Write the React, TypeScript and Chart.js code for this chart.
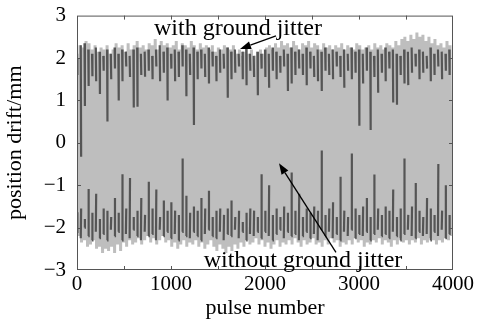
import React, { useEffect, useRef } from "react";
import { Chart, registerables } from "chart.js";

Chart.register(...registerables);

// Pulse spacing of the stored samples (pulse numbers)
const lightPulseStep = 16;
const darkPulseStep = 40;

// "without ground jitter": positive peaks and negative troughs (mm), alternating pulses
const lightTop = [
  2.1, 2.3, 2.25, 2.4, 2.35, 2.2, 2.3, 2.15, 2.25, 2.2,
  2.3, 2.1, 2.2, 2.35, 2.25, 2.3, 2.15, 2.35, 2.2, 2.3,
  2.4, 2.25, 2.3, 2.2, 2.35, 2.3, 2.45, 2.2, 2.4, 2.3,
  2.35, 2.25, 2.3, 2.4, 2.2, 2.35, 2.3, 2.25, 2.4, 2.3,
  2.2, 2.35, 2.25, 2.3, 2.2, 2.3, 2.15, 2.25, 2.2, 2.3,
  2.25, 2.2, 2.3, 2.1, 2.2, 2.05, 2.15, 2.1, 2.2, 2.05,
  2.15, 2.2, 2.1, 2.25, 2.3, 2.2, 2.35, 2.25, 2.4, 2.3,
  2.35, 2.25, 2.4, 2.3, 2.2, 2.35, 2.3, 2.4, 2.25, 2.35,
  2.3, 2.2, 2.35, 2.25, 2.3, 2.2, 2.3, 2.25, 2.35, 2.2,
  2.3, 2.25, 2.2, 2.35, 2.3, 2.2, 2.25, 2.3, 2.2, 2.35,
  2.25, 2.3, 2.2, 2.35, 2.3, 2.25, 2.4, 2.3, 2.45, 2.5,
  2.4, 2.55, 2.45, 2.6, 2.5, 2.55, 2.4, 2.5, 2.35, 2.45,
  2.3, 2.35, 2.25, 2.4, 2.3,
];
const lightBot = [
  -2.2, -2.35, -2.3, -2.45, -2.4, -2.3, -2.5, -2.45, -2.6, -2.5,
  -2.55, -2.45, -2.6, -2.4, -2.55, -2.35, -2.45, -2.3, -2.4, -2.35,
  -2.25, -2.4, -2.3, -2.2, -2.35, -2.25, -2.4, -2.3, -2.2, -2.35,
  -2.3, -2.45, -2.35, -2.5, -2.4, -2.3, -2.45, -2.35, -2.4, -2.3,
  -2.45, -2.35, -2.5, -2.4, -2.3, -2.45, -2.55, -2.4, -2.5, -2.6,
  -2.45, -2.55, -2.4, -2.5, -2.35, -2.45, -2.3, -2.4, -2.35, -2.25,
  -2.4, -2.3, -2.45, -2.35, -2.5, -2.4, -2.3, -2.45, -2.35, -2.4,
  -2.3, -2.4, -2.25, -2.35, -2.45, -2.3, -2.4, -2.35, -2.25, -2.4,
  -2.35, -2.45, -2.3, -2.4, -2.25, -2.35, -2.3, -2.45, -2.35, -2.4,
  -2.3, -2.4, -2.25, -2.35, -2.3, -2.45, -2.35, -2.4, -2.3, -2.35,
  -2.25, -2.4, -2.3, -2.35, -2.45, -2.3, -2.4, -2.25, -2.35, -2.3,
  -2.4, -2.3, -2.35, -2.25, -2.4, -2.3, -2.35, -2.25, -2.3, -2.4,
  -2.3, -2.35, -2.25, -2.3, -2.2,
];

// "with ground jitter": positive excursions (outer ends / inner ends)
const darkTopHi = [
  2.0, 2.3, 2.35, 2.2, 2.1, 2.25, 2.15, 2.05, 2.2, 2.1,
  2.25, 2.1, 2.2, 2.15, 2.05, 2.2, 2.25, 2.1, 2.15, 2.2,
  2.05, 2.2, 2.3, 2.15, 2.25, 2.1, 2.2, 2.15, 2.3, 2.2,
  2.1, 2.25, 2.15, 2.2, 2.1, 2.25, 2.15, 2.05, 2.2, 2.1,
  2.25, 2.15, 2.2, 2.1, 2.15, 2.25, 2.1, 2.05, 2.15, 2.1,
  2.2, 2.1, 2.25, 2.15, 2.05, 2.2, 2.1, 2.25, 2.15, 2.2,
  2.1, 2.25, 2.15, 2.05, 2.2, 2.15, 2.25, 2.1, 2.2, 2.15,
  2.05, 2.2, 2.1, 2.25, 2.15, 2.2, 2.1, 2.25, 2.15, 2.05,
  2.2, 2.1, 2.25, 2.15, 2.2, 2.1, 2.05, 2.2, 2.15, 2.25,
  2.1, 2.2, 2.15, 2.05, 2.25, 2.1, 2.2, 2.15, 2.1, 2.2,
];
const darkTopLo = [
  1.6, -0.33, 0.87, 1.34, 1.57, 1.45, 1.15, 1.7, 0.5, 1.5,
  1.75, 1.0, 1.45, 1.8, 1.55, 0.83, 0.85, 1.6, 1.56, 1.7,
  1.5, 1.8, 1.45, 1.65, 1.0, 1.75, 1.45, 1.55, 1.8, 1.1,
  1.6, 0.42, 1.5, 1.75, 1.55, 1.4, 1.8, 1.45, 1.65, 1.75,
  1.06, 1.5, 1.65, 1.8, 1.5, 1.36, 1.7, 1.55, 1.12, 1.75,
  1.55, 1.3, 1.7, 1.5, 1.65, 1.8, 1.22, 1.4, 1.6, 1.75,
  1.6, 1.36, 1.75, 1.55, 1.45, 1.22, 1.7, 1.6, 1.5, 1.8,
  1.55, 1.3, 1.7, 1.5, 1.65, 0.4, 1.4, 1.7, 0.3, 1.55,
  1.18, 1.65, 1.45, 1.75, 0.95, 0.9, 1.6, 1.4, 1.36, 1.65,
  1.8, 1.5, 1.65, 1.75, 1.45, 1.6, 1.8, 1.5, 1.7, 1.6,
];
// "with ground jitter": negative excursions (outer ends / inner ends)
const darkBotLo = [
  -2.1, -2.25, -2.0, -2.2, -2.3, -2.1, -2.25, -2.15, -2.3, -2.05,
  -2.2, -2.1, -2.3, -2.15, -2.25, -2.05, -2.2, -2.3, -2.1, -2.2,
  -2.15, -2.3, -2.05, -2.2, -2.1, -2.25, -2.15, -2.3, -2.1, -2.2,
  -2.25, -2.1, -2.2, -2.3, -2.15, -2.05, -2.2, -2.25, -2.1, -2.3,
  -2.15, -2.2, -2.05, -2.25, -2.1, -2.3, -2.15, -2.2, -2.1, -2.25,
  -2.1, -2.2, -2.3, -2.15, -2.05, -2.25, -2.1, -2.2, -2.15, -2.3,
  -2.2, -2.1, -2.25, -2.15, -2.3, -2.05, -2.2, -2.1, -2.25, -2.15,
  -2.3, -2.1, -2.2, -2.05, -2.25, -2.15, -2.2, -2.1, -2.3, -2.15,
  -2.05, -2.2, -2.15, -2.25, -2.1, -2.2, -2.3, -2.15, -2.05, -2.2,
  -2.25, -2.1, -2.2, -2.15, -2.3, -2.1, -2.2, -2.05, -2.25, -2.15,
];
const darkBotHi = [
  -1.64, -1.55, -1.8, -1.09, -1.65, -1.2, -1.8, -1.55, -1.6, -1.75,
  -1.3, -1.65, -0.74, -1.55, -0.83, -1.75, -1.6, -1.3, -1.7, -0.92,
  -1.55, -1.1, -1.75, -1.36, -1.6, -1.4, -1.6, -1.7, -0.37, -1.25,
  -1.65, -1.5, -1.6, -1.3, -1.55, -1.13, -1.75, -1.6, -1.55, -1.7,
  -1.55, -1.36, -1.75, -1.6, -1.87, -1.65, -1.55, -1.6, -1.75, -0.74,
  -1.6, -1.0, -1.7, -1.55, -1.75, -1.5, -1.65, -0.7, -1.6, -1.2,
  -1.75, -1.55, -1.65, -1.5, -1.6, -0.18, -1.7, -1.55, -1.4, -1.75,
  -0.8, -1.6, -1.75, -0.25, -1.55, -1.7, -1.5, -1.3, -1.75, -0.75,
  -1.55, -1.7, -1.5, -1.6, -1.1, -1.75, -1.55, -0.37, -1.7, -1.5,
  -0.95, -1.6, -1.75, -1.3, -1.55, -1.7, -0.5, -1.6, -1.0, -1.7,
];

// Axis ticks
const xTickValues = [0, 1000, 2000, 3000, 4000];
const yTickValues = [-3, -2, -1, 0, 1, 2, 3];

// Annotations, anchored in data units
const annotationTexts = [
  { text: "with ground jitter", x: 1713, y: 2.54 },
  { text: "without ground jitter", x: 2404, y: -2.93 },
];
const annotationArrows = [
  { fromX: 2117, fromY: 2.52, toX: 1734, toY: 2.215 },
  { fromX: 2755, fromY: -2.585, toX: 2149, toY: -0.485 },
];

const FONT = '"Liberation Serif", "Times New Roman", serif';

// zig-zag between alternating pulses
function interleave(a: number[], b: number[], step: number) {
  const out: { x: number; y: number }[] = [];
  for (let i = 0; i < a.length; i++) {
    out.push({ x: 2 * i * step, y: a[i] });
    out.push({ x: (2 * i + 1) * step, y: b[i] });
  }
  return out;
}

// separate strokes: one excursion per sample, broken by gaps
function strokes(a: number[], b: number[], step: number) {
  const out: { x: number; y: number | null }[] = [];
  for (let i = 0; i < a.length; i++) {
    out.push({ x: i * step, y: a[i] });
    out.push({ x: i * step + 4, y: b[i] });
    out.push({ x: i * step + 5, y: null });
  }
  return out;
}

const framePlugin = {
  id: "frame",
  afterDraw(chart: any) {
    const { ctx, chartArea, scales } = chart;
    const { left, right, top, bottom } = chartArea;
    const xs = scales.x;
    const ys = scales.y;
    ctx.save();
    ctx.strokeStyle = "#555";
    ctx.lineWidth = 1;
    ctx.strokeRect(left + 0.5, top + 0.5, right - left - 1, bottom - top - 1);
    ctx.beginPath();
    for (let v = 500; v < 4000; v += 500) {
      const px = Math.round(xs.getPixelForValue(v)) + 0.5;
      ctx.moveTo(px, bottom);
      ctx.lineTo(px, bottom - 4);
      ctx.moveTo(px, top);
      ctx.lineTo(px, top + 4);
    }
    for (let v = -2; v <= 2; v += 1) {
      const py = Math.round(ys.getPixelForValue(v)) + 0.5;
      ctx.moveTo(left, py);
      ctx.lineTo(left + 4, py);
      ctx.moveTo(right, py);
      ctx.lineTo(right - 4, py);
    }
    ctx.stroke();

    ctx.fillStyle = "#000";
    ctx.font = "24px " + FONT;
    ctx.textAlign = "center";
    ctx.textBaseline = "alphabetic";
    for (const a of annotationTexts) {
      ctx.fillText(a.text, xs.getPixelForValue(a.x), ys.getPixelForValue(a.y));
    }
    ctx.strokeStyle = "#000";
    ctx.lineWidth = 1.3;
    for (const a of annotationArrows) {
      const x1 = xs.getPixelForValue(a.fromX);
      const y1 = ys.getPixelForValue(a.fromY);
      const x2 = xs.getPixelForValue(a.toX);
      const y2 = ys.getPixelForValue(a.toY);
      const ang = Math.atan2(y2 - y1, x2 - x1);
      const headLen = 11;
      const headW = 4;
      const bx = x2 - headLen * Math.cos(ang);
      const by = y2 - headLen * Math.sin(ang);
      ctx.beginPath();
      ctx.moveTo(x1, y1);
      ctx.lineTo(bx, by);
      ctx.stroke();
      ctx.beginPath();
      ctx.moveTo(x2, y2);
      ctx.lineTo(bx + headW * Math.sin(ang), by - headW * Math.cos(ang));
      ctx.lineTo(bx - headW * Math.sin(ang), by + headW * Math.cos(ang));
      ctx.closePath();
      ctx.fill();
    }
    ctx.restore();
  },
};

export default function App() {
  const canvasRef = useRef<HTMLCanvasElement | null>(null);

  useEffect(() => {
    const canvas = canvasRef.current;
    if (!canvas) return;
    const fmt = (v: number) => (v < 0 ? "\u2212" + Math.abs(v) : String(v));
    const chart = new Chart(canvas, {
      type: "line",
      data: {
        datasets: [
          {
            label: "with ground jitter (+)",
            data: strokes(darkTopHi, darkTopLo, darkPulseStep),
            borderColor: "#555555",
            borderWidth: 2.2,
            pointRadius: 0,
            tension: 0,
            spanGaps: false,
          },
          {
            label: "with ground jitter (−)",
            data: strokes(darkBotLo, darkBotHi, darkPulseStep),
            borderColor: "#555555",
            borderWidth: 2.2,
            pointRadius: 0,
            tension: 0,
            spanGaps: false,
          },
          {
            label: "without ground jitter",
            data: interleave(lightTop, lightBot, lightPulseStep),
            borderColor: "#bebebe",
            borderWidth: 3,
            pointRadius: 0,
            tension: 0,
          },
        ],
      },
      options: {
        responsive: false,
        animation: false,
        events: [],
        layout: { padding: { left: 0, right: 28, top: 10, bottom: 0 } },
        plugins: { legend: { display: false }, tooltip: { enabled: false } },
        scales: {
          x: {
            type: "linear",
            min: 0,
            max: 4000,
            grid: { display: false },
            border: { display: false },
            afterBuildTicks: (s: any) => {
              s.ticks = xTickValues.map((v) => ({ value: v }));
            },
            afterFit: (s: any) => {
              s.height = 54;
            },
            ticks: {
              autoSkip: false,
              maxRotation: 0,
              padding: -6,
              color: "#000",
              font: { family: FONT, size: 21 },
              callback: (v: any) => fmt(Number(v)),
            },
            title: {
              display: true,
              text: "pulse number",
              color: "#000",
              font: { family: FONT, size: 22 },
              padding: { top: 0, bottom: 3 },
            },
          },
          y: {
            type: "linear",
            min: -3,
            max: 3,
            grid: { display: false },
            border: { display: false },
            afterBuildTicks: (s: any) => {
              s.ticks = yTickValues.map((v) => ({ value: v }));
            },
            afterFit: (s: any) => {
              s.width = 77;
            },
            ticks: {
              autoSkip: false,
              padding: 3,
              color: "#000",
              font: { family: FONT, size: 21 },
              callback: (v: any) => fmt(Number(v)),
            },
            title: {
              display: true,
              text: "position drift/mm",
              color: "#000",
              font: { family: FONT, size: 22 },
              padding: { top: 2, bottom: 0 },
            },
          },
        },
      },
      plugins: [framePlugin],
    } as any);
    return () => chart.destroy();
  }, []);

  return (
    <div style={{ position: "absolute", left: 0, top: 0, width: 481, height: 324, background: "#fff" }}>
      <canvas ref={canvasRef} width={481} height={324} style={{ display: "block" }} />
    </div>
  );
}
